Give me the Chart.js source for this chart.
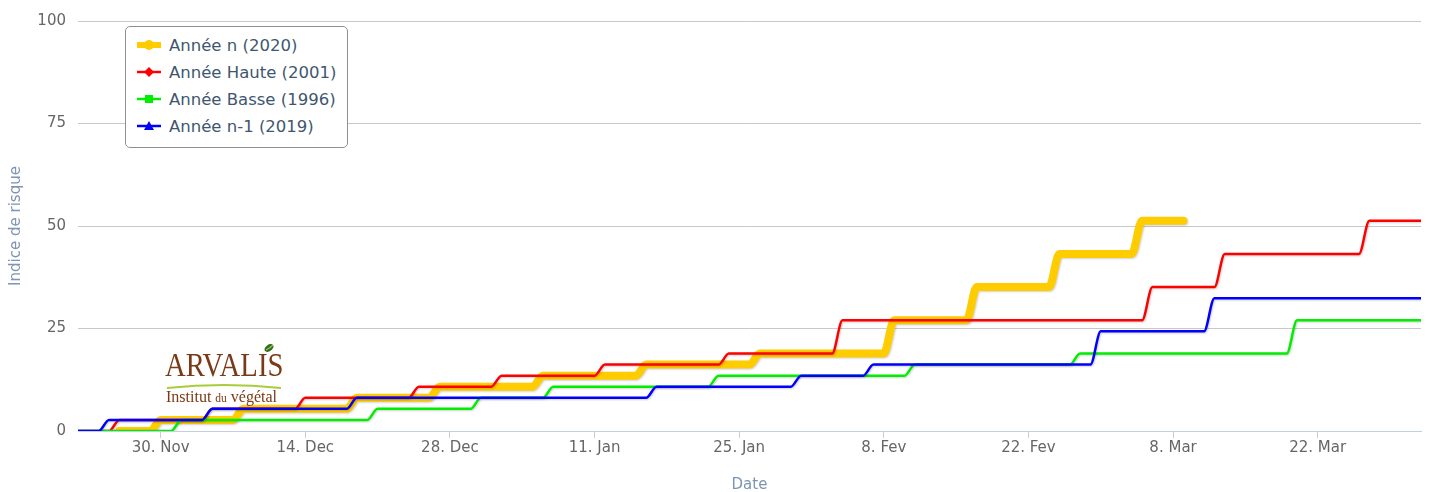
<!DOCTYPE html>
<html>
<head>
<meta charset="utf-8">
<script src="https://cdn.jsdelivr.net/npm/chart.js@4.4.1/dist/chart.umd.min.js"></script>
<style>
  html, body { margin: 0; padding: 0; background: #fff; }
  #wrap { position: relative; width: 1431px; height: 492px; }
  #legend {
    position: absolute; left: 125px; top: 26px; width: 223px; height: 122px;
    box-sizing: border-box; border: 1px solid #909090; border-radius: 5px; background: #fff;
    padding: 5px 0 0 11px;
    font-family: 'DejaVu Sans', sans-serif; font-size: 16.5px; color: #3e576f;
  }
  #legend .item { height: 27px; line-height: 27px; white-space: nowrap; }
  #legend svg { vertical-align: middle; margin-right: 8px; margin-top: -3px; }
  #logo { position: absolute; left: 165px; top: 341px; width: 120px; height: 70px; color: #7b3a17; }
  #logo .brand { position: absolute; left: 0; top: 4px; font-family: 'Liberation Serif', serif; font-size: 33px; line-height: 40px; transform: scaleX(0.87); transform-origin: left; }
  #logo .sub { position: absolute; left: 1px; top: 47px; font-family: 'Liberation Serif', serif; font-size: 16px; line-height: 18px; white-space: nowrap; }
  #logo .sub small { font-size: 11.5px; }
  #logo svg { position: absolute; }
</style>
</head>
<body>
<div id="wrap">
  <canvas id="riskChart" width="1431" height="492"></canvas>
  <div id="legend"></div>
  <div id="logo">
    <div class="brand">ARVALIS</div>
    <svg style="left:98px;top:2px" width="12" height="10"><ellipse cx="6" cy="5" rx="5" ry="3.2" transform="rotate(-35 6 5)" fill="#2f6b24"/><path d="M3 7 Q7 5 10 2" stroke="#9cc83a" stroke-width="1.2" fill="none"/></svg>
    <svg style="left:1px;top:42px" width="116" height="6"><path d="M1 5 Q58 -1 115 5" stroke="#a9cd3a" stroke-width="2" fill="none"/></svg>
    <div class="sub">Institut <small>du</small> végétal</div>
  </div>
</div>
<script>
// x values are days counted from 30 Nov
const xMin = -8;
const xMax = 122;
const xTickDays = [0, 14, 28, 42, 56, 70, 84, 98, 112];
const xTickLabels = ['30. Nov', '14. Dec', '28. Dec', '11. Jan', '25. Jan', '8. Fev', '22. Fev', '8. Mar', '22. Mar'];
const yTicks = [0, 25, 50, 75, 100];

// each series: first day, last day, days before each rise, successive levels
const n2020Range = [-4, 99];
const n2020Rises = [-1, 7, 18, 26, 36, 46, 57, 70, 78, 86, 94];
const n2020Levels = [0, 2.7, 5.4, 8.1, 10.8, 13.5, 16.2, 18.9, 27, 35.1, 43.2, 51.3];

const high2001Range = [-8, 122];
const high2001Rises = [-5, 4, 13, 24, 32, 42, 54, 65, 95, 102, 116];
const high2001Levels = [0, 2.7, 5.4, 8.1, 10.8, 13.5, 16.2, 18.9, 27, 35.1, 43.2, 51.3];

const low1996Range = [-8, 122];
const low1996Rises = [1, 20, 30, 37, 53, 72, 88, 109];
const low1996Levels = [0, 2.7, 5.4, 8.1, 10.8, 13.5, 16.2, 18.9, 27];

const n2019Range = [-8, 122];
const n2019Rises = [-6, 4, 18, 47, 61, 68, 90, 101];
const n2019Levels = [0, 2.7, 5.4, 8.1, 10.8, 13.5, 16.2, 24.3, 32.4];

function stepPoints(range, rises, levels) {
  const pts = [{x: range[0], y: levels[0]}];
  rises.forEach((d, i) => {
    pts.push({x: d, y: levels[i]}, {x: d + 1, y: levels[i + 1]});
  });
  pts.push({x: range[1], y: levels[levels.length - 1]});
  return pts;
}

const shadow = {
  id: 'shadow',
  beforeDatasetDraw(chart) {
    const c = chart.ctx;
    c.save();
    c.shadowColor = 'rgba(0,0,0,0.18)';
    c.shadowBlur = 2;
    c.shadowOffsetX = 1;
    c.shadowOffsetY = 1;
  },
  afterDatasetDraw(chart) {
    chart.ctx.restore();
  }
};

const ctxRisk = document.getElementById('riskChart');

const riskChart = new Chart(ctxRisk, {
  type: 'line',
  data: {
    datasets: [{
      label: 'Année n (2020)',
      data: stepPoints(n2020Range, n2020Rises, n2020Levels),
      borderColor: '#ffcc00',
      borderWidth: 8,
      borderCapStyle: 'round',
      pointStyle: 'circle',
      order: 3
    }, {
      label: 'Année Haute (2001)',
      data: stepPoints(high2001Range, high2001Rises, high2001Levels),
      borderColor: '#ff0000',
      borderWidth: 2.5,
      pointStyle: 'rectRot',
      order: 2
    }, {
      label: 'Année Basse (1996)',
      data: stepPoints(low1996Range, low1996Rises, low1996Levels),
      borderColor: '#00ee00',
      borderWidth: 2.5,
      pointStyle: 'rect',
      order: 1
    }, {
      label: 'Année n-1 (2019)',
      data: stepPoints(n2019Range, n2019Rises, n2019Levels),
      borderColor: '#0000ff',
      borderWidth: 2.5,
      pointStyle: 'triangle',
      order: 0
    }]
  },
  options: {
    responsive: false,
    animation: false,
    layout: { padding: { top: 18, right: 10, left: 0, bottom: 0 } },
    elements: {
      point: { radius: 0, hoverRadius: 0 },
      line: { cubicInterpolationMode: 'monotone', fill: false, borderJoinStyle: 'round' }
    },
    plugins: {
      legend: { display: false },
      tooltip: { enabled: false }
    },
    scales: {
      x: {
        type: 'linear',
        min: xMin,
        max: xMax,
        afterFit: (scale) => { scale.height = 61; },
        afterBuildTicks: (scale) => { scale.ticks = xTickDays.map(v => ({value: v})); },
        ticks: {
          color: '#666',
          font: { family: 'DejaVu Sans', size: 15 },
          padding: 1,
          maxRotation: 0,
          autoSkip: false,
          callback: (value) => xTickLabels[xTickDays.indexOf(value)]
        },
        grid: { drawOnChartArea: false, drawTicks: true, tickLength: 7, tickColor: '#c0d0e0' },
        border: { display: true, color: '#c0d0e0' },
        title: {
          display: true,
          text: 'Date',
          color: '#7d95b3',
          font: { family: 'DejaVu Sans', size: 15 },
          padding: { top: 0, bottom: -2 }
        }
      },
      y: {
        min: 0,
        max: 100,
        afterFit: (scale) => { scale.width = 78; },
        afterBuildTicks: (scale) => { scale.ticks = yTicks.map(v => ({value: v})); },
        ticks: {
          color: '#666',
          font: { family: 'DejaVu Sans', size: 15 },
          padding: 12
        },
        grid: { color: '#c8c8c8', drawTicks: false },
        border: { display: false },
        title: {
          display: true,
          text: 'Indice de risque',
          color: '#7d95b3',
          font: { family: 'DejaVu Sans', size: 15 },
          padding: { top: 7, bottom: 0 }
        }
      }
    }
  },
  plugins: [shadow]
});

// legend in the Highcharts look: line + marker, then label
function symbolSvg(ds) {
  const c = ds.borderColor;
  const lw = ds.borderWidth > 4 ? 6 : 2.5;
  let marker = '';
  if (ds.pointStyle === 'circle') marker = `<circle cx="12" cy="7" r="5" fill="${c}"/>`;
  if (ds.pointStyle === 'rectRot') marker = `<path d="M12 2 L17 7 L12 12 L7 7 Z" fill="${c}"/>`;
  if (ds.pointStyle === 'rect') marker = `<rect x="8" y="3" width="8" height="8" fill="${c}"/>`;
  if (ds.pointStyle === 'triangle') marker = `<path d="M12 2 L17 11 L7 11 Z" fill="${c}"/>`;
  return `<svg width="24" height="14"><line x1="0" y1="7" x2="24" y2="7" stroke="${c}" stroke-width="${lw}"/>${marker}</svg>`;
}

const legendBox = document.getElementById('legend');
riskChart.data.datasets.forEach(ds => {
  const row = document.createElement('div');
  row.className = 'item';
  row.innerHTML = symbolSvg(ds) + '<span>' + ds.label + '</span>';
  legendBox.appendChild(row);
});
</script>
</body>
</html>
